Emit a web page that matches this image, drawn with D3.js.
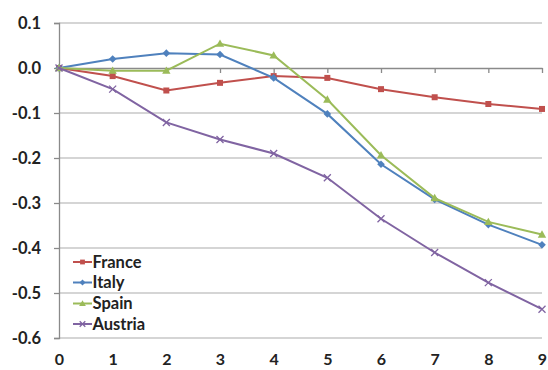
<!DOCTYPE html>
<html><head><meta charset="utf-8">
<script src="https://cdn.jsdelivr.net/npm/d3@7"></script>
<style>body{margin:0;background:#fff}svg{display:block}text{font-family:Lato,"Open Sans",sans-serif;font-weight:bold;fill:#222}</style>
</head><body><svg id="c" width="548" height="370"></svg>
<script>
const xValues = [0,1,2,3,4,5,6,7,8,9];
const france  = [0,-0.018,-0.050,-0.033,-0.018,-0.022,-0.047,-0.065,-0.080,-0.091];
const italy   = [0,0.020,0.033,0.030,-0.022,-0.102,-0.214,-0.292,-0.348,-0.393];
const spain   = [0,-0.006,-0.006,0.054,0.028,-0.070,-0.194,-0.289,-0.342,-0.370];
const austria = [0,-0.047,-0.121,-0.159,-0.190,-0.244,-0.335,-0.410,-0.477,-0.536];
const seriesNames = ["France","Italy","Spain","Austria"];
const yTicks = [0.1,0.0,-0.1,-0.2,-0.3,-0.4,-0.5,-0.6];

const colors = ["#C0504D","#4F81BD","#9BBB59","#8064A2"];
const svg = d3.select("#c");
const x = d3.scaleLinear().domain([0,9]).range([59,542]);
const y = d3.scaleLinear().domain([-0.6,0.1]).range([338,23]);
const FS = "16.5px";
const fmtY = d => d3.format(".1f")(d).replace("\u2212","-");

svg.append("g").selectAll("line").data(yTicks.filter(v=>v!==0)).join("line")
  .attr("x1",59).attr("x2",542).attr("y1",d=>y(d)).attr("y2",d=>y(d))
  .attr("stroke","#ababab").attr("stroke-width",1.2);

const ya = svg.append("g").attr("transform","translate(59,0)")
  .call(d3.axisLeft(y).tickValues(yTicks).tickFormat(fmtY).tickSize(5).tickPadding(13));
ya.select(".domain").attr("stroke","#8a8a8a").attr("stroke-width",1.3);
ya.selectAll(".tick line").attr("stroke","#8a8a8a").attr("stroke-width",1.3);
ya.selectAll("text").style("font-size",FS).attr("fill","#1a1a1a").attr("dy","0.36em");

const xa = svg.append("g").attr("transform",`translate(0,${y(0)})`)
  .call(d3.axisBottom(x).tickValues(xValues).tickFormat(d3.format("d")).tickSize(5).tickSizeOuter(0));
xa.select(".domain").attr("stroke","#8a8a8a").attr("stroke-width",1.3);
xa.selectAll(".tick line").attr("stroke","#8a8a8a").attr("stroke-width",1.3);
xa.selectAll("text").style("font-size","16px").attr("fill","#1a1a1a").attr("y",296.5).attr("dy","0");

const data = [france, italy, spain, austria];
const line = d3.line().x((d,i)=>x(xValues[i])).y(d=>y(d));
function marker(g, i, cx, cy, k){
  k = k||1;
  let d;
  if(i===0){ const s=3*k; d=`M${cx-s},${cy-s}h${2*s}v${2*s}h${-2*s}Z`; }
  else if(i===1){ const s=3.8*k; d=`M${cx},${cy-s}L${cx+s},${cy}L${cx},${cy+s}L${cx-s},${cy}Z`; }
  else if(i===2){ const s=4.2*k; d=`M${cx},${cy-s}L${cx+s},${cy+s*0.75}L${cx-s},${cy+s*0.75}Z`; }
  if(i===3){
    const s=3.5*k;
    g.append("path").attr("d",`M${cx-s},${cy-s}L${cx+s},${cy+s}M${cx-s},${cy+s}L${cx+s},${cy-s}`)
      .attr("stroke",colors[i]).attr("stroke-width",1.3).attr("fill","none");
  } else {
    g.append("path").attr("d",d).attr("fill",colors[i]);
  }
}
data.forEach((s,i)=>{
  const g = svg.append("g");
  g.append("path").datum(s).attr("d",line).attr("fill","none").attr("stroke",colors[i]).attr("stroke-width",2);
  s.forEach((v,j)=>marker(g,i,x(xValues[j]),y(v)));
});

const legY = [262,282.5,303.5,324];
seriesNames.forEach((n,i)=>{
  const g = svg.append("g");
  g.append("line").attr("x1",73).attr("x2",92).attr("y1",legY[i]).attr("y2",legY[i]).attr("stroke",colors[i]).attr("stroke-width",2);
  marker(g,i,82.5,legY[i],0.8);
  g.append("text").attr("x",92.5).attr("y",legY[i]).attr("dy","0.36em").style("font-size",FS).attr("fill","#1a1a1a").text(n);
});
</script></body></html>
